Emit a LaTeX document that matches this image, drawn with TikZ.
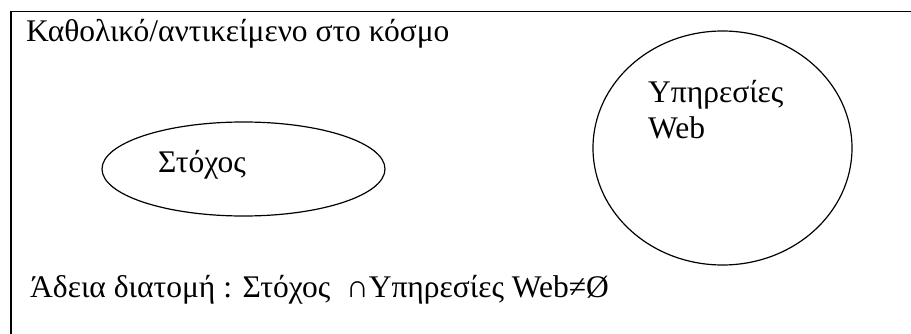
\documentclass[tikz,border=0pt]{standalone}
\usepackage{fontspec}
\setmainfont{Liberation Serif}
\usetikzlibrary{shapes.geometric}
\tikzset{
  frameline/.style={line width=1.6pt, draw=black},
  setshape/.style={draw, ellipse, line width=1.2pt, inner sep=0pt},
  label/.style={font=\fontsize{31.5}{36}\selectfont, inner sep=0pt, anchor=base west,
                align=left},
}
\begin{document}
\begin{tikzpicture}[x=1pt, y=-1pt]
\useasboundingbox (0,0) rectangle (911,334);

% ================= universe frame (cut off right and below) =================
\coordinate (frameSW) at (11,340);
\coordinate (frameNW) at (11,11.5);
\coordinate (frameNE) at (915,11.5);
\draw[frameline] (frameSW) -- (frameNW) -- (frameNE);

\node[label] (universe) at (26,42) {Καθολικό/αντικείμενο στο κόσμο};

% ================= the two sets =================
\node[setshape, minimum width=283pt, minimum height=94pt] (goal) at (243.5,169) {};
\node[label] (goaltext) at (158,173) {Στόχος};

\node[setshape, minimum width=259pt, minimum height=234pt] (web) at (722.5,148) {};
\node[label] (webtext) at (648,139) {Υπηρεσίες\\Web};

% ================= intersection statement =================
\node[label] (empty) at (30,297) {Άδεια διατομή : Στόχος \ ∩Υπηρεσίες Web≠Ø};
\end{tikzpicture}
\end{document}
